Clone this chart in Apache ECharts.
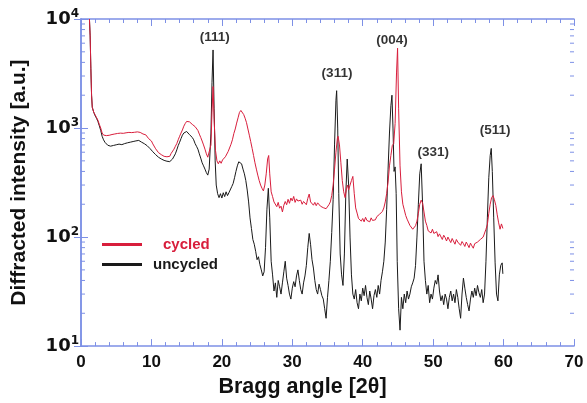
<!DOCTYPE html>
<html>
<head>
<meta charset="utf-8">
<script src="https://cdn.jsdelivr.net/npm/echarts@6/dist/echarts.min.js"></script>
<style>
html,body{margin:0;padding:0;background:#fff;}
#chart{width:587px;height:403px;}
</style>
</head>
<body>
<div id="chart"></div>
<script>
// Bragg angle [2θ] vs diffracted intensity [a.u.] — cycled sample
var cycled = [
[1.2,10000],[1.3,7000],[1.4,3500],[1.5,2000],[1.6,1550],[1.8,1400],[2.0,1320],[2.2,1250],[2.4,1180],[2.6,1080],[2.8,1000],
[3.0,900],[3.2,862],[3.4,832],[3.6,852],[3.8,826],[4.0,858],[4.2,842],[4.4,872],[4.6,850],[4.8,882],[5.0,862],[5.2,892],
[5.4,870],[5.6,898],[5.8,874],[6.0,894],[6.2,872],[6.4,904],[6.6,880],[6.8,912],[7.0,888],[7.2,908],[7.4,884],[7.6,914],
[7.8,890],[8.0,922],[8.2,898],[8.4,912],[8.6,880],[8.8,882],[9.0,856],[9.2,866],[9.4,834],[9.6,800],[9.8,775],[10.0,760],
[10.2,715],[10.4,695],[10.6,645],[10.8,635],[11.0,595],[11.2,585],[11.4,570],[11.6,575],[11.8,550],[12.0,570],[12.2,545],
[12.4,565],[12.6,550],[12.8,585],[13.0,600],[13.2,640],[13.4,680],[13.6,720],[13.8,780],[14.0,840],[14.2,900],[14.4,960],
[14.6,1040],[14.8,1100],[15.0,1150],[15.2,1170],[15.4,1140],[15.6,1100],[15.8,1080],[16.0,1050],[16.2,1030],[16.4,1000],
[16.6,950],[16.8,880],[17.0,820],[17.2,760],[17.4,700],[17.6,640],[17.8,580],[18.0,540],[18.2,560],[18.45,700],[18.6,1400],
[18.75,2400],[18.9,1200],[19.1,620],[19.3,500],[19.5,470],[19.7,500],[19.9,475],[20.1,510],[20.3,500],[20.5,545],[20.7,560],
[20.9,610],[21.1,630],[21.3,710],[21.5,780],[21.7,890],[21.9,980],[22.1,1110],[22.3,1240],[22.5,1390],[22.7,1450],[22.9,1420],
[23.1,1330],[23.3,1230],[23.5,1120],[23.7,980],[23.9,860],[24.1,750],[24.3,650],[24.5,560],[24.7,480],[24.9,420],[25.1,370],
[25.3,330],[25.5,300],[25.7,280],[25.9,265],[26.1,300],[26.3,380],[26.5,520],[26.65,560],[26.8,380],[27.0,260],[27.2,235],
[27.4,210],[27.6,212],[27.8,190],[28.0,208],[28.2,184],[28.4,192],[28.6,170],[28.8,196],[29.0,212],[29.2,198],[29.4,222],
[29.6,204],[29.8,228],[30.0,215],[30.2,236],[30.4,208],[30.6,224],[30.8,214],[31.0,206],[31.2,218],[31.4,200],[31.6,212],
[31.8,204],[32.0,198],[32.2,226],[32.4,248],[32.6,210],[32.8,216],[33.0,196],[33.2,208],[33.4,194],[33.6,206],[33.8,200],
[34.0,192],[34.2,198],[34.4,186],[34.6,190],[34.8,182],[35.0,178],[35.2,198],[35.4,210],[35.6,240],[35.8,300],[36.0,420],
[36.2,600],[36.4,800],[36.5,840],[36.7,700],[36.9,480],[37.1,330],[37.3,260],[37.5,230],[37.7,280],[37.85,300],[38.0,270],
[38.2,300],[38.4,330],[38.6,360],[38.8,250],[39.0,185],[39.2,166],[39.4,148],[39.6,152],[39.8,140],[40.0,148],[40.2,138],
[40.4,152],[40.6,142],[40.8,146],[41.0,138],[41.2,150],[41.4,142],[41.6,147],[41.8,144],[42.0,154],[42.2,148],[42.4,162],
[42.6,158],[42.8,172],[43.0,185],[43.2,210],[43.4,250],[43.6,320],[43.8,450],[44.0,560],[44.2,690],[44.4,720],[44.6,1100],
[44.8,3200],[44.95,5400],[45.1,1500],[45.3,450],[45.5,260],[45.7,200],[45.9,178],[46.1,158],[46.3,146],[46.5,140],[46.7,128],
[46.9,132],[47.1,118],[47.3,121],[47.5,127],[47.7,140],[47.9,165],[48.1,200],[48.3,218],[48.5,205],[48.7,170],[48.9,140],
[49.1,128],[49.3,114],[49.5,117],[49.7,109],[49.9,118],[50.1,108],[50.3,104],[50.5,112],[50.7,101],[50.9,107],[51.1,103],
[51.3,95],[51.5,104],[51.7,99],[51.9,92],[52.1,100],[52.3,96],[52.5,89],[52.7,97],[52.9,93],[53.1,86],[53.3,95],[53.5,90],
[53.7,93],[53.9,84],[54.1,91],[54.3,87],[54.5,82],[54.7,90],[54.9,85],[55.1,80],[55.3,88],[55.5,83],[55.7,79],[55.9,87],
[56.1,85],[56.3,90],[56.5,87],[56.7,95],[56.9,92],[57.1,100],[57.3,104],[57.5,118],[57.7,130],[57.9,165],[58.1,200],
[58.3,230],[58.5,240],[58.7,220],[58.9,195],[59.1,160],[59.3,135],[59.5,118],[59.7,132],[59.9,120]
];
// uncycled sample
var uncycled = [
[1.2,10000],[1.3,7000],[1.4,3500],[1.5,2000],[1.6,1550],[1.8,1400],[2.0,1300],[2.2,1230],[2.4,1150],[2.6,1050],[2.8,950],
[3.0,840],[3.2,780],[3.4,740],[3.6,720],[3.8,695],[4.0,700],[4.2,682],[4.4,708],[4.6,692],[4.8,716],[5.0,702],[5.2,726],
[5.4,712],[5.6,722],[5.8,704],[6.0,728],[6.2,720],[6.4,748],[6.6,732],[6.8,758],[7.0,742],[7.2,768],[7.4,752],[7.6,780],
[7.8,762],[8.0,788],[8.2,770],[8.4,762],[8.6,742],[8.8,748],[9.0,718],[9.2,704],[9.4,688],[9.6,664],[9.8,648],[10.0,626],
[10.2,606],[10.4,594],[10.6,570],[10.8,562],[11.0,540],[11.2,533],[11.4,520],[11.6,522],[11.8,505],[12.0,510],[12.2,496],
[12.4,505],[12.6,492],[12.8,504],[13.0,520],[13.2,540],[13.4,580],[13.6,630],[13.8,690],[14.0,740],[14.2,800],[14.4,860],
[14.6,900],[14.8,920],[15.0,930],[15.2,900],[15.4,870],[15.6,850],[15.8,820],[16.0,780],[16.2,720],[16.4,680],[16.6,640],
[16.8,580],[17.0,530],[17.2,480],[17.4,450],[17.6,420],[17.8,390],[18.0,370],[18.2,420],[18.45,900],[18.6,2600],[18.75,5200],
[18.9,1500],[19.05,500],[19.2,300],[19.4,250],[19.6,230],[19.8,250],[20.0,228],[20.2,255],[20.4,235],[20.6,260],[20.8,240],
[21.0,255],[21.2,260],[21.4,290],[21.6,310],[21.8,350],[22.0,400],[22.2,450],[22.4,490],[22.6,500],[22.8,470],[23.0,420],
[23.2,380],[23.4,330],[23.6,270],[23.8,210],[24.0,150],[24.2,120],[24.4,95],[24.6,86],[24.8,74],[25.0,62],[25.2,66],
[25.4,56],[25.6,50],[25.8,44],[26.0,48],[26.2,80],[26.4,180],[26.6,280],[26.8,150],[27.0,60],[27.2,45],[27.4,32],[27.6,38],
[27.8,28],[28.0,40],[28.2,35],[28.4,30],[28.6,38],[28.8,48],[29.0,60],[29.2,42],[29.4,36],[29.6,30],[29.8,27],[30.0,34],
[30.2,39],[30.4,35],[30.6,44],[30.8,50],[31.0,40],[31.2,33],[31.4,30],[31.6,38],[31.8,44],[32.0,55],[32.2,80],[32.4,108],
[32.6,85],[32.8,62],[33.0,52],[33.2,40],[33.4,33],[33.6,30],[33.8,37],[34.0,33],[34.2,29],[34.4,27],[34.6,22],[34.8,18],
[35.0,28],[35.2,40],[35.4,60],[35.6,110],[35.8,220],[36.0,700],[36.2,1800],[36.3,2200],[36.45,1000],[36.6,250],[36.8,70],
[37.0,45],[37.2,36],[37.4,70],[37.6,250],[37.8,520],[38.0,300],[38.2,100],[38.4,45],[38.6,30],[38.8,27],[39.0,33],[39.2,25],
[39.4,22],[39.6,30],[39.8,26],[40.0,34],[40.2,29],[40.4,36],[40.6,28],[40.8,24],[41.0,32],[41.2,27],[41.4,22],[41.6,29],
[41.8,33],[42.0,28],[42.2,36],[42.4,30],[42.6,40],[42.8,48],[43.0,60],[43.2,90],[43.4,180],[43.6,420],[43.8,900],[44.0,1600],
[44.15,2000],[44.3,1000],[44.45,400],[44.6,440],[44.75,250],[44.9,60],[45.1,22],[45.3,14],[45.5,28],[45.7,22],[45.9,30],
[46.1,25],[46.3,32],[46.5,27],[46.7,30],[46.9,35],[47.1,38],[47.3,42],[47.5,55],[47.7,100],[47.9,200],[48.1,380],[48.3,470],
[48.5,200],[48.7,60],[48.9,40],[49.1,30],[49.3,36],[49.5,25],[49.7,30],[49.9,27],[50.1,34],[50.3,40],[50.5,37],[50.7,45],
[50.9,32],[51.1,26],[51.3,29],[51.5,24],[51.7,30],[51.9,27],[52.1,22],[52.3,28],[52.5,32],[52.7,26],[52.9,30],[53.1,25],
[53.3,33],[53.5,28],[53.7,22],[53.9,18],[54.1,30],[54.3,42],[54.5,34],[54.7,28],[54.9,24],[55.1,21],[55.3,27],[55.5,32],
[55.7,28],[55.9,34],[56.1,29],[56.3,36],[56.5,31],[56.7,28],[56.9,33],[57.1,25],[57.3,30],[57.5,60],[57.7,150],[57.9,350],
[58.1,560],[58.25,650],[58.4,400],[58.6,150],[58.8,58],[59.0,30],[59.2,26],[59.4,45],[59.6,55],[59.8,58],[59.9,46]
];
// peak labels: [angle, intensity, text]
var peakAngles = [19.0, 36.35, 44.15, 50.0, 58.8];
var peakLevels = [6860, 3160, 6440, 593, 960];
var peakNames = ['(111)', '(311)', '(004)', '(331)', '(511)'];
// axis ticks
var xTicks = [0, 10, 20, 30, 40, 50, 60, 70];
var yDecades = [10, 100, 1000, 10000];
var yMinorTicks = [20,30,40,50,60,70,80,90,200,300,400,500,600,700,800,900,2000,3000,4000,5000,6000,7000,8000,9000];

var axisBlue = '#7d90e6';
var FONT = 'Liberation Sans, Arial, sans-serif';
var WIDE = 'DejaVu Sans, Liberation Sans, sans-serif';

var chart = echarts.init(document.getElementById('chart'));

var annotData = peakAngles.map(function (a, i) { return [a, peakLevels[i], peakNames[i]]; });

var option = {
  animation: false,
  backgroundColor: '#ffffff',
  grid: { left: 81, right: 13, top: 19, bottom: 54, containLabel: false },
  legend: {
    left: 97, top: 232, orient: 'vertical', icon: 'rect', itemWidth: 40, itemHeight: 3, itemGap: 5,
    textStyle: { fontFamily: FONT, fontSize: 15, fontWeight: 'bold' },
    data: [
      { name: 'cycled', textStyle: { color: '#d81e3c', padding: [0, 0, 0, 16] } },
      { name: 'uncycled', textStyle: { color: '#1a1a1a', padding: [0, 0, 0, 6] } }
    ]
  },
  xAxis: [{
    type: 'value', min: xTicks[0], max: xTicks[xTicks.length - 1], interval: 10,
    name: 'Bragg angle [2θ]', nameLocation: 'middle', nameGap: 28,
    nameTextStyle: { fontFamily: FONT, fontSize: 21.5, fontWeight: 'bold', color: '#111', padding: [0, 50, 0, 0] },
    axisLine: { lineStyle: { color: axisBlue, width: 1.5 } },
    axisTick: { inside: true, length: 7, lineStyle: { color: axisBlue } },
    minorTick: { show: true, splitNumber: 5, length: 4, lineStyle: { color: axisBlue } },
    splitLine: { show: false },
    axisLabel: { fontFamily: FONT, fontSize: 17, fontWeight: 'bold', color: '#111', margin: 8 }
  }, {
    type: 'value', position: 'top', min: xTicks[0], max: xTicks[xTicks.length - 1], interval: 10,
    axisLine: { show: true, lineStyle: { color: axisBlue, width: 1.5 } },
    axisTick: { show: true, inside: true, length: 7, lineStyle: { color: axisBlue } },
    minorTick: { show: true, splitNumber: 5, length: 4, lineStyle: { color: axisBlue } },
    splitLine: { show: false }, axisLabel: { show: false }
  }],
  yAxis: [{
    type: 'log', min: yDecades[0], max: yDecades[yDecades.length - 1], logBase: 10,
    name: 'Diffracted intensity [a.u.]', nameLocation: 'middle', nameGap: 51,
    nameTextStyle: { fontFamily: FONT, fontSize: 21, fontWeight: 'bold', color: '#111' },
    axisLine: { show: true, lineStyle: { color: axisBlue, width: 1.5 } },
    axisTick: { show: true, inside: true, length: 7, lineStyle: { color: axisBlue } },
    splitLine: { show: false },
    axisLabel: {
      margin: 2,
      formatter: function (v) { return '{b|10}{s|' + Math.round(Math.log10(v)) + '}'; },
      rich: {
        b: { fontFamily: WIDE, fontSize: 18, fontWeight: 'bold', color: '#111' },
        s: { fontFamily: WIDE, fontSize: 12, fontWeight: 'bold', color: '#111', padding: [0, 0, 11, 0] }
      }
    }
  }, {
    type: 'log', position: 'right', min: yDecades[0], max: yDecades[yDecades.length - 1], logBase: 10,
    axisLine: { show: true, lineStyle: { color: axisBlue, width: 1.5 } },
    axisTick: { show: true, inside: true, length: 7, lineStyle: { color: axisBlue } },
    splitLine: { show: false }, axisLabel: { show: false }
  }],
  series: [
    {
      type: 'custom', silent: true, z: 1,
      data: yMinorTicks.map(function (v) { return [xTicks[0], v]; }),
      renderItem: function (params, api) {
        var cs = params.coordSys;
        var p = api.coord([api.value(0), api.value(1)]);
        var st = { stroke: axisBlue, lineWidth: 1 };
        return { type: 'group', children: [
          { type: 'line', shape: { x1: cs.x, y1: p[1], x2: cs.x + 4, y2: p[1] }, style: st },
          { type: 'line', shape: { x1: cs.x + cs.width, y1: p[1], x2: cs.x + cs.width - 4, y2: p[1] }, style: st }
        ] };
      }
    },
    {
      name: 'uncycled', type: 'line', data: uncycled, showSymbol: false, z: 3,
      color: '#1a1a1a', lineStyle: { color: '#1a1a1a', width: 1 }
    },
    {
      name: 'cycled', type: 'line', data: cycled, showSymbol: false, z: 4,
      color: '#d81e3c', lineStyle: { color: '#d81e3c', width: 1 }
    },
    {
      type: 'scatter', data: annotData, symbolSize: 0, silent: true, z: 5,
      itemStyle: { color: '#ffffff' },
      label: {
        show: true, position: 'inside', fontFamily: FONT, fontSize: 13.5, fontWeight: 'bold', color: '#000000',
        textBorderWidth: 0,
        formatter: function (p) { return p.data[2]; }
      }
    }
  ]
};
chart.setOption(option);
</script>
</body>
</html>
